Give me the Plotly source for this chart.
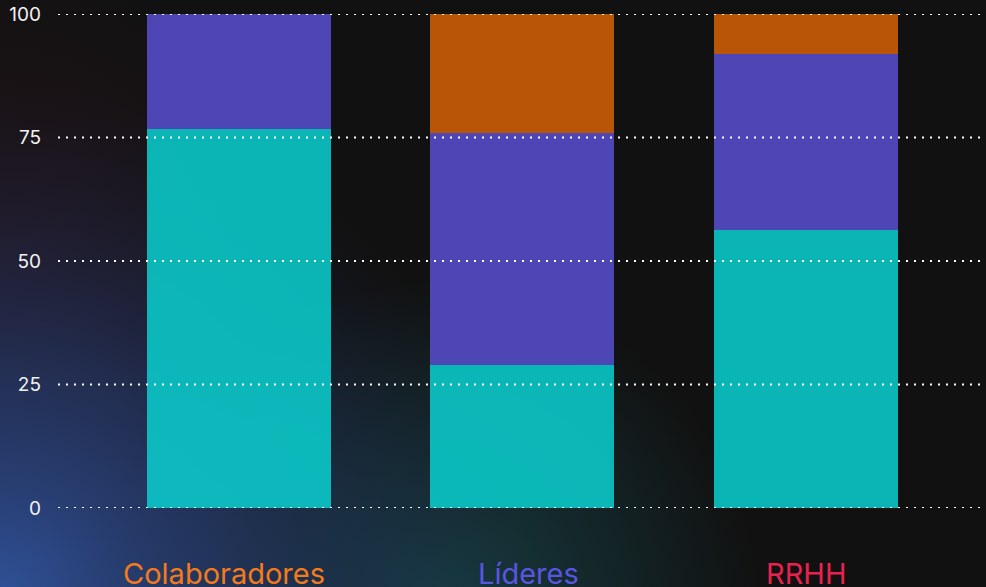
import base64
import plotly.graph_objects as go

categories = ["Colaboradores", "Líderes", "RRHH"]
label_colors = ["#f47a1a", "#5a55e0", "#e8224f"]
label_xshift = [-15, 6, 0]
teal_vals = [76.7, 29.0, 56.2]
purple_vals = [23.3, 47.0, 35.8]
orange_vals = [0.0, 24.0, 8.0]
yticks = [0, 25, 50, 75, 100]

W, H = 986, 587

svg = f"""<svg xmlns='http://www.w3.org/2000/svg' width='{W}' height='{H}' viewBox='0 0 {W} {H}'>
<defs>
<radialGradient id='b' gradientUnits='userSpaceOnUse' cx='0' cy='600' r='520'>
<stop offset='0' stop-color='#30529a' stop-opacity='1'/>
<stop offset='0.45' stop-color='#273a6c' stop-opacity='0.7'/>
<stop offset='1' stop-color='#1a2040' stop-opacity='0'/>
</radialGradient>
<radialGradient id='t' gradientUnits='userSpaceOnUse' cx='430' cy='610' r='330'>
<stop offset='0' stop-color='#17434a' stop-opacity='0.9'/>
<stop offset='1' stop-color='#17434a' stop-opacity='0'/>
</radialGradient>
<radialGradient id='r' gradientUnits='userSpaceOnUse' cx='0' cy='250' r='300'>
<stop offset='0' stop-color='#24141a' stop-opacity='0.85'/>
<stop offset='1' stop-color='#24141a' stop-opacity='0'/>
</radialGradient>
</defs>
<rect width='{W}' height='{H}' fill='#111111'/>
<rect width='{W}' height='{H}' fill='url(#r)'/>
<rect width='{W}' height='{H}' fill='url(#t)'/>
<rect width='{W}' height='{H}' fill='url(#b)'/>
</svg>"""
bg_uri = "data:image/svg+xml;base64," + base64.b64encode(svg.encode()).decode()

fig = go.Figure()
fig.add_trace(go.Bar(x=categories, y=teal_vals, marker=dict(color="rgb(10,204,204)", line=dict(width=0)), opacity=0.88))
fig.add_trace(go.Bar(x=categories, y=purple_vals, marker=dict(color="#4f46b5", line=dict(width=0))))
fig.add_trace(go.Bar(x=categories, y=orange_vals, marker=dict(color="#b85506", line=dict(width=0))))

x0p = 58 / W
for v in yticks:
    fig.add_shape(type="line", xref="paper", yref="y", x0=x0p, x1=1, y0=v, y1=v,
                  line=dict(color="#ffffff", width=2, dash="2px,6px"), layer="above")

for cat, col, dx in zip(categories, label_colors, label_xshift):
    fig.add_annotation(x=cat, xref="x", y=(H - 573) / H, yref="paper", yanchor="middle",
                       text=cat, showarrow=False, xshift=dx,
                       font=dict(size=29, family="Inter", color=col))

fig.update_layout(
    width=W, height=H,
    barmode="stack", bargap=0.351,
    showlegend=False,
    margin=dict(l=0, r=0, t=0, b=0),
    paper_bgcolor="#111111", plot_bgcolor="rgba(0,0,0,0)",
    font=dict(family="Inter", color="#ffffff"),
    images=[dict(source=bg_uri, xref="paper", yref="paper", x=0, y=1, sizex=1, sizey=1,
                 sizing="stretch", xanchor="left", yanchor="top", layer="below")],
    xaxis=dict(domain=[x0p, 1], range=[-0.638, 2.635], showticklabels=False,
               showgrid=False, zeroline=False, showline=False, ticks="", automargin=False),
    yaxis=dict(domain=[1 - 508 / H, 1 - 14 / H], range=[0, 100], tickvals=yticks,
               tickfont=dict(size=19, family="Inter", color="#f2f2f2"), showgrid=False,
               zeroline=False, showline=False, ticks="", ticklabelstandoff=16, automargin=False),
)

fig.write_html("out.html", config={"displayModeBar": False},
               post_script="document.body.style.margin='0';document.body.style.overflow='hidden';")
